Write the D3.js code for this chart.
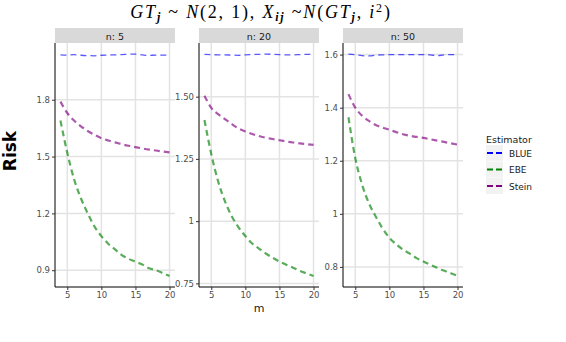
<!DOCTYPE html>
<html>
<head>
<meta charset="utf-8">
<script src="https://cdn.jsdelivr.net/npm/d3@7"></script>
<style>
body { margin: 0; background: #fff; }
text { font-family: "DejaVu Sans", sans-serif; }
</style>
</head>
<body>
<div id="chart"></div>
<script>
// m values on the x axis
var m = [4, 5, 6, 7, 8, 9, 10, 11, 12, 13, 14, 15, 16, 17, 18, 19, 20];

// facet labels
var panels = ["n: 5", "n: 20", "n: 50"];

// risk per estimator, one list per facet
var blue5  = [2.037, 2.036, 2.038, 2.035, 2.033, 2.032, 2.035, 2.036, 2.037, 2.038, 2.040, 2.041, 2.037, 2.034, 2.036, 2.036, 2.036];
var ebe5   = [1.69, 1.52, 1.38, 1.28, 1.20, 1.13, 1.08, 1.04, 1.01, 0.98, 0.96, 0.945, 0.93, 0.91, 0.90, 0.885, 0.87];
var stein5 = [1.79, 1.73, 1.69, 1.66, 1.635, 1.615, 1.597, 1.585, 1.575, 1.565, 1.557, 1.55, 1.543, 1.537, 1.532, 1.527, 1.522];

var blue20  = [1.670, 1.669, 1.668, 1.668, 1.667, 1.666, 1.668, 1.669, 1.670, 1.671, 1.670, 1.669, 1.668, 1.668, 1.669, 1.670, 1.669];
var ebe20   = [1.406, 1.27, 1.16, 1.08, 1.02, 0.975, 0.94, 0.91, 0.89, 0.87, 0.853, 0.838, 0.825, 0.813, 0.80, 0.79, 0.78];
var stein20 = [1.504, 1.455, 1.43, 1.41, 1.39, 1.372, 1.36, 1.35, 1.342, 1.335, 1.33, 1.325, 1.32, 1.316, 1.312, 1.309, 1.306];

var blue50  = [1.602, 1.600, 1.596, 1.595, 1.598, 1.599, 1.600, 1.600, 1.600, 1.600, 1.600, 1.600, 1.599, 1.596, 1.599, 1.600, 1.600];
var ebe50   = [1.364, 1.21, 1.11, 1.04, 0.99, 0.945, 0.91, 0.885, 0.865, 0.85, 0.833, 0.82, 0.808, 0.797, 0.786, 0.776, 0.766];
var stein50 = [1.451, 1.40, 1.37, 1.35, 1.335, 1.325, 1.317, 1.308, 1.30, 1.294, 1.29, 1.286, 1.281, 1.276, 1.271, 1.266, 1.261];

// tick labels
var xTicks = [5, 10, 15, 20];
var yTicks5  = [0.9, 1.2, 1.5, 1.8];
var yTicks20 = [0.75, 1, 1.25, 1.5];
var yTicks50 = [0.8, 1, 1.2, 1.4, 1.6];
var yLabels5  = ["0.9", "1.2", "1.5", "1.8"];
var yLabels20 = ["0.75", "1", "1.25", "1.50"];
var yLabels50 = ["0.8", "1", "1.2", "1.4", "1.6"];

var estimators = ["BLUE", "EBE", "Stein"];
var colors = ["#0000ff", "#008000", "#800080"];

function init() {
    var w = 566, h = 342;
    var svg = d3.select("#chart").append("svg")
        .attr("width", w).attr("height", h);

    var series = [
        [blue5, ebe5, stein5],
        [blue20, ebe20, stein20],
        [blue50, ebe50, stein50]
    ];
    var yTicks = [yTicks5, yTicks20, yTicks50];
    var yLabels = [yLabels5, yLabels20, yLabels50];

    var panelLeft = [55, 199, 343];
    var panelW = 120;
    var top = 43, bottom = 287;

    var color = d3.scaleOrdinal().domain(estimators).range(colors);

    panels.forEach(function(name, p) {
        var x0 = panelLeft[p];
        var x = d3.scaleLinear()
            .domain([3.2, 20.8])
            .range([x0, x0 + panelW]);

        var all = d3.merge(series[p]);
        var ext = d3.extent(all);
        var pad = (ext[1] - ext[0]) * 0.05;
        var y = d3.scaleLinear()
            .domain([ext[0] - pad, ext[1] + pad])
            .range([bottom, top]);

        var g = svg.append("g");

        // strip
        g.append("rect")
            .attr("x", x0).attr("y", 28)
            .attr("width", panelW).attr("height", top - 28)
            .attr("fill", "#d9d9d9");
        g.append("text")
            .attr("x", x0 + panelW / 2).attr("y", 39.5)
            .attr("text-anchor", "middle")
            .attr("font-size", 9.5)
            .attr("fill", "#1a1a1a")
            .text(name);

        // grid
        g.selectAll(".vg").data(xTicks).enter().append("line")
            .attr("x1", function(d) { return x(d); })
            .attr("x2", function(d) { return x(d); })
            .attr("y1", top).attr("y2", bottom)
            .attr("stroke", "#e3e3e3").attr("stroke-width", 1.5);
        g.selectAll(".hg").data(yTicks[p]).enter().append("line")
            .attr("x1", x0).attr("x2", x0 + panelW)
            .attr("y1", function(d) { return y(d); })
            .attr("y2", function(d) { return y(d); })
            .attr("stroke", "#e3e3e3").attr("stroke-width", 1.5);

        // lines
        var line = d3.line()
            .x(function(d, i) { return x(m[i]); })
            .y(function(d) { return y(d); })
            .curve(d3.curveMonotoneX);

        series[p].forEach(function(vals, k) {
            g.append("path")
                .datum(vals)
                .attr("d", line)
                .attr("fill", "none")
                .attr("stroke", color(estimators[k]))
                .attr("stroke-opacity", 0.65)
                .attr("stroke-width", k == 0 ? 1.3 : 2.2)
                .attr("stroke-dasharray", "6,4");
        });

        // axes
        var xAxis = d3.axisBottom(x).tickValues(xTicks).tickSize(3).tickPadding(2);
        var gx = g.append("g")
            .attr("transform", "translate(0," + bottom + ")")
            .call(xAxis);
        gx.select(".domain").attr("d", "M" + x0 + ",0H" + (x0 + panelW)).attr("stroke", "#000");
        gx.selectAll(".tick line").attr("stroke", "#333");
        gx.selectAll("text").attr("font-size", 8.5).attr("fill", "#4d4d4d")
            .style("font-family", "DejaVu Sans, sans-serif");

        var yAxis = d3.axisLeft(y).tickValues(yTicks[p])
            .tickFormat(function(d, i) { return yLabels[p][i]; })
            .tickSize(3).tickPadding(2);
        var gy = g.append("g")
            .attr("transform", "translate(" + x0 + ",0)")
            .call(yAxis);
        gy.select(".domain").attr("d", "M0," + top + "V" + bottom).attr("stroke", "#000");
        gy.selectAll(".tick line").attr("stroke", "#333");
        gy.selectAll("text").attr("font-size", 8.5).attr("fill", "#4d4d4d")
            .style("font-family", "DejaVu Sans, sans-serif");
    });

    // axis titles
    svg.append("text")
        .attr("x", 259).attr("y", 312)
        .attr("text-anchor", "middle")
        .attr("font-size", 11)
        .attr("fill", "#1a1a1a")
        .text("m");
    svg.append("text")
        .attr("transform", "translate(16,151) rotate(-90)")
        .attr("text-anchor", "middle")
        .attr("font-size", 17)
        .attr("font-weight", "bold")
        .attr("fill", "#000")
        .text("Risk");

    // title
    var t = svg.append("text")
        .attr("x", 261).attr("y", 18)
        .attr("text-anchor", "middle")
        .attr("font-size", 18)
        .attr("letter-spacing", 1.8)
        .style("font-family", "Liberation Serif, serif")
        .attr("fill", "#000");
    var parts = [
        ["GT", "i", 0], ["j", "i", 1], [" ~ ", "n", 0], ["N", "i", 0], ["(2, 1), ", "n", 0],
        ["X", "i", 0], ["ij", "i", 1], [" ~", "n", 0], ["N", "i", 0], ["(", "n", 0],
        ["GT", "i", 0], ["j", "i", 1], [", ", "n", 0],
        ["i", "i", 0], ["2", "n", 2], [")", "n", 0]
    ];
    var shift = 0;
    parts.forEach(function(pt) {
        var target = pt[2] == 1 ? 3 : (pt[2] == 2 ? -6 : 0);
        var dy = target - shift;
        shift = target;
        t.append("tspan")
            .attr("dy", dy)
            .attr("font-style", pt[1] == "i" ? "italic" : "normal")
            .attr("font-weight", pt[2] == 1 ? "bold" : "normal")
            .attr("font-size", pt[2] ? 12 : 18)
            .text(pt[0]);
    });

    // legend
    var lg = svg.append("g").attr("transform", "translate(486,0)");
    lg.append("text")
        .attr("x", 0).attr("y", 143)
        .attr("font-size", 9.5)
        .attr("fill", "#1a1a1a")
        .text("Estimator");
    var keyY = [153, 169.5, 186];
    estimators.forEach(function(e, i) {
        lg.append("rect")
            .attr("x", 0).attr("y", keyY[i] - 8)
            .attr("width", 17).attr("height", 16)
            .attr("fill", "#f2f2f2");
        lg.append("line")
            .attr("x1", 1).attr("x2", 17)
            .attr("y1", keyY[i]).attr("y2", keyY[i])
            .attr("stroke", color(e))
            .attr("stroke-width", 2)
            .attr("stroke-dasharray", "6,3");
        lg.append("text")
            .attr("x", 23).attr("y", keyY[i] + 3.5)
            .attr("font-size", 9)
            .attr("fill", "#1a1a1a")
            .text(e);
    });
}
window.onload = init;
</script>
</body>
</html>
